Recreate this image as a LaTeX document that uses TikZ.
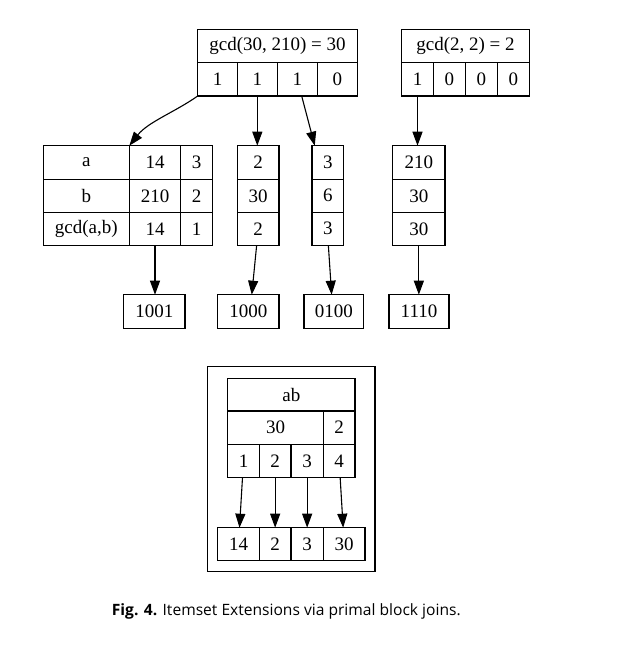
\documentclass[tikz,border=0pt]{standalone}
\usepackage{fontspec}
\setmainfont{Liberation Serif}
\newfontfamily\capfont{Open Sans}
\usetikzlibrary{arrows.meta,fit}
\tikzset{
  cellbox/.style={draw, line width=1.1pt, inner sep=0pt, outer sep=0pt, font=\fontsize{19}{22}\selectfont},
  arr/.style={line width=1.1pt, -{Triangle[length=14pt,width=10pt]}},
  grp/.style={inner sep=0pt, outer sep=0pt},
}
\newcommand\cell[6]{%
  \pgfmathsetmacro\cw{#4-#2}\pgfmathsetmacro\ch{#5-#3}%
  \node[cellbox, minimum width=\cw pt, minimum height=\ch pt] (#1) at ({(#2+#4)/2},{(#3+#5)/2}) {#6};}
\begin{document}
\begin{tikzpicture}[x=1pt,y=-1pt]
\useasboundingbox[fill=white] (0,0) rectangle (622,650);
% top-left record
\cell{c0}{197.7}{29.3}{357.3}{62.7}{gcd(30, 210) = 30}
\cell{c1}{197.7}{62.7}{237.3}{96}{1}
\cell{c2}{237.3}{62.7}{277.3}{96}{1}
\cell{c3}{277.3}{62.7}{317.3}{96}{1}
\cell{c4}{317.3}{62.7}{357.3}{96}{0}
% top-right record
\cell{d0}{401.7}{29.3}{529.3}{62.7}{gcd(2, 2) = 2}
\cell{d1}{401.7}{62.7}{433.3}{96}{1}
\cell{d2}{433.3}{62.7}{465.3}{96}{0}
\cell{d3}{465.3}{62.7}{497.3}{96}{0}
\cell{d4}{497.3}{62.7}{529.3}{96}{0}
% table
\cell{t11}{43.3}{145.7}{129.3}{179.3}{a}
\cell{t12}{129.3}{145.7}{180.7}{179.3}{14}
\cell{t13}{180.7}{145.7}{212.7}{179.3}{3}
\cell{t21}{43.3}{179.3}{129.3}{212.3}{b}
\cell{t22}{129.3}{179.3}{180.7}{212.3}{210}
\cell{t23}{180.7}{179.3}{212.7}{212.3}{2}
\cell{t31}{43.3}{212.3}{129.3}{245.3}{gcd(a,b)}
\cell{t32}{129.3}{212.3}{180.7}{245.3}{14}
\cell{t33}{180.7}{212.3}{212.7}{245.3}{1}
% column boxes
\cell{e1}{237.3}{145.7}{279}{179.3}{2}
\cell{e2}{237.3}{179.3}{279}{212.3}{30}
\cell{e3}{237.3}{212.3}{279}{245.3}{2}
\node[grp, fit=(e1)(e3)] (m2) {};
\cell{f1}{312}{145.7}{343.7}{179.3}{3}
\cell{f2}{312}{179.3}{343.7}{212.3}{6}
\cell{f3}{312}{212.3}{343.7}{245.3}{3}
\node[grp, fit=(f1)(f3)] (m3) {};
\cell{g1}{392.7}{145.7}{445}{179.3}{210}
\cell{g2}{392.7}{179.3}{445}{212.3}{30}
\cell{g3}{392.7}{212.3}{445}{245.3}{30}
\node[grp, fit=(g1)(g3)] (m4) {};
% bottom row
\cell{o1}{123.7}{294.7}{185}{328.3}{1001}
\cell{o2}{217.7}{294.7}{279}{328.3}{1000}
\cell{o3}{304}{294.7}{363.7}{328.3}{0100}
\cell{o4}{389}{294.7}{449}{328.3}{1110}
% arrows upper figure
\draw[arr] (c1.south west) .. controls (175,112) and (148,122) .. (t12.north west);
\draw[arr] (c2.south) -- (c2.south |- m2.north);
\draw[arr] (c3) -- (m3);
\draw[arr] (d1.south) -- (d1.south |- m4.north);
\draw[arr] (t32.south) -- (t32.south |- o1.north);
\draw[arr] ([xshift=-1.5pt]m2.south) -- ([xshift=3.4pt]o2.north);
\draw[arr] ([xshift=0.5pt]m3.south) -- ([xshift=-2.2pt]o3.north);
\draw[arr] (m4.south) -- (m4.south |- o4.north);
% lower figure
\cell{frame}{207.3}{366.7}{375}{571.7}{}
\cell{h0}{227.7}{378.3}{355}{411}{ab}
\cell{h1}{227.7}{411}{323.3}{444.3}{30}
\cell{h2}{323.3}{411}{355}{444.3}{2}
\cell{p1}{227.7}{444.3}{259.3}{477.3}{1}
\cell{p2}{259.3}{444.3}{291}{477.3}{2}
\cell{p3}{291}{444.3}{323.3}{477.3}{3}
\cell{p4}{323.3}{444.3}{355}{477.3}{4}
\cell{b1}{217.7}{527.7}{259.3}{560.7}{14}
\cell{b2}{259.3}{527.7}{291}{560.7}{2}
\cell{b3}{291}{527.7}{323.3}{560.7}{3}
\cell{b4}{323.3}{527.7}{365}{560.7}{30}
\draw[arr] (p1) -- (b1);
\draw[arr] (p2) -- (b2);
\draw[arr] (p3) -- (b3);
\draw[arr] (p4) -- (b4);
% caption
\node[anchor=base west, inner sep=0pt, font=\capfont\fontsize{15.6}{18}\selectfont] (cap) at (111.7,615) {\textbf{Fig. 4.} Itemset Extensions via primal block joins.};
\end{tikzpicture}
\end{document}
